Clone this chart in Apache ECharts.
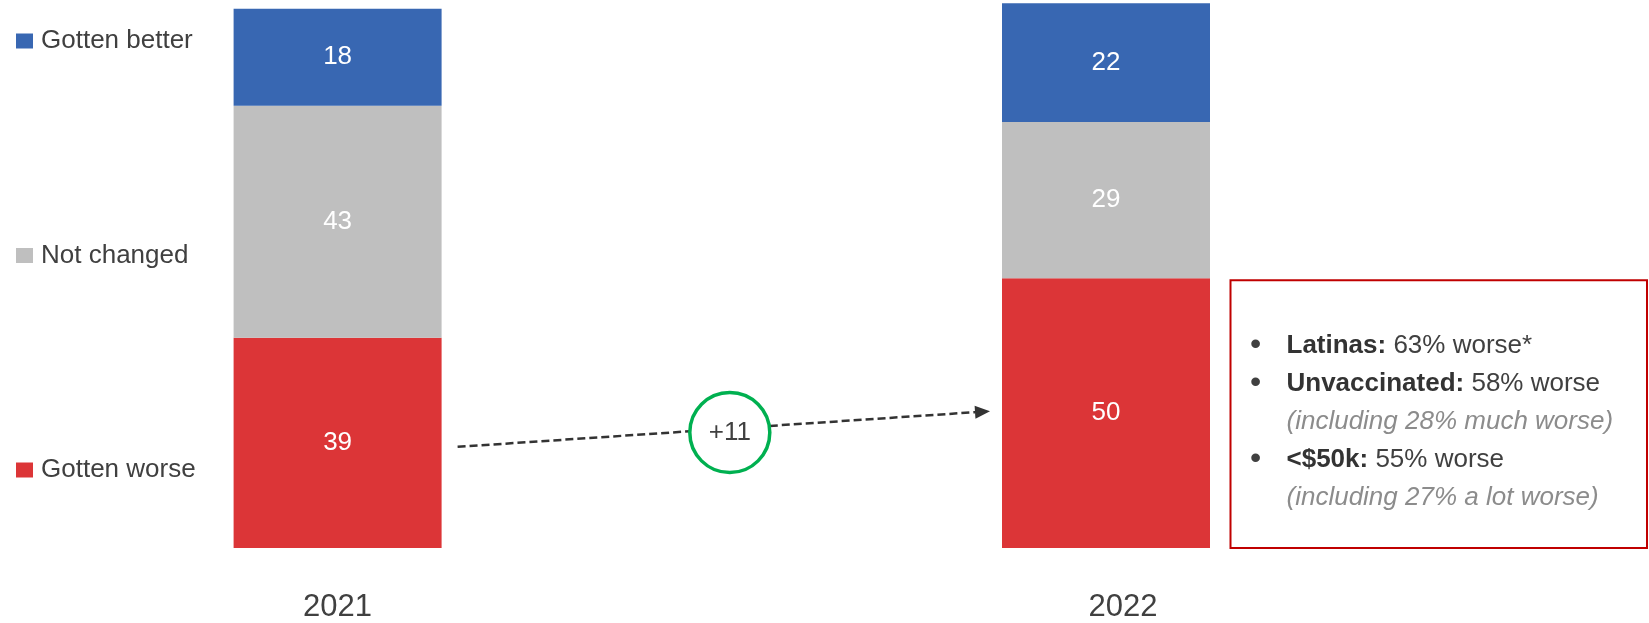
<!DOCTYPE html>
<html>
<head>
<meta charset="utf-8">
<title>Gotten better / not changed / gotten worse</title>
<script src="https://cdn.jsdelivr.net/npm/echarts@6/dist/echarts.min.js"></script>
<style>
  html, body { margin: 0; padding: 0; background: #fff; }
  #chart { width: 1649px; height: 623px; }
</style>
</head>
<body>
<div id="chart"></div>
<script>
// chart data
const years = ['2021', '2022'];
const gottenWorse = [39, 50];
const notChanged = [43, 29];
const gottenBetter = [18, 22];
const seriesNames = ['Gotten better', 'Not changed', 'Gotten worse'];

// side note
const noteGroups = ['Latinas:', 'Unvaccinated:', '<$50k:'];
const noteValues = ['63% worse*', '58% worse', '55% worse'];
const noteDetails = ['', '(including 28% much worse)', '(including 27% a lot worse)'];

const SANS = '"Liberation Sans", Arial, sans-serif';
const TEXT = '#404040';
const BAR_W = 208;

const chart = echarts.init(document.getElementById('chart'));

function barSeries(name, data, color) {
  return {
    name: name,
    type: 'bar',
    stack: 'total',
    data: data,
    barWidth: BAR_W,
    clip: false,
    itemStyle: { color: color },
    label: {
      show: true,
      position: 'inside',
      color: '#fff',
      fontFamily: SANS,
      fontSize: 26
    },
    emphasis: { disabled: true }
  };
}

chart.setOption({
  animation: false,
  // category points sit on the grid edges (boundaryGap false)
  grid: { left: 337.6, right: 543, top: 6, bottom: 73.5 },
  legend: {
    data: seriesNames,
    orient: 'vertical',
    left: 11,
    top: 21,
    itemWidth: 17,
    itemHeight: 15,
    itemGap: 184.5,
    icon: 'rect',
    selectedMode: false,
    textStyle: { fontFamily: SANS, fontSize: 26, color: TEXT, lineHeight: 30, padding: [0, 0, 0, 3] }
  },
  xAxis: {
    type: 'category',
    data: years,
    boundaryGap: false,
    axisLine: { show: false },
    axisTick: { show: false },
    axisLabel: {
      interval: 0,
      margin: 44,
      formatter: function (v, i) {
        return i === 1 ? '{r|' + v + '}' : '{n|' + v + '}';
      },
      rich: {
        n: { fontFamily: SANS, fontSize: 31, color: TEXT },
        r: { fontFamily: SANS, fontSize: 31, color: TEXT, padding: [0, 0, 0, 34] }
      }
    }
  },
  yAxis: { type: 'value', min: 0, max: 100.5, show: false },
  series: [
    barSeries('Gotten worse', gottenWorse, '#DC3537'),
    barSeries('Not changed', notChanged, '#BFBFBF'),
    barSeries('Gotten better', gottenBetter, '#3867B2')
  ]
});

// annotations: dashed arrow between the two "worse" blocks, change bubble, note box
const half = BAR_W / 2;
const p0 = chart.convertToPixel({ gridIndex: 0 }, [0, gottenWorse[0] / 2]);
const p1 = chart.convertToPixel({ gridIndex: 0 }, [1, gottenWorse[1] / 2]);
const start = [p0[0] + half + 16, p0[1] + 4];
const end = [p1[0] - half - 12, p1[1] - 2];
const dx = end[0] - start[0], dy = end[1] - start[1];
const len = Math.sqrt(dx * dx + dy * dy);
const ux = dx / len, uy = dy / len;
const yAt = x => start[1] + (x - start[0]) * dy / dx;

const r = 40;
const cx = (start[0] + end[0]) / 2 + 6;
const cy = yAt(cx) + 4;
const headLen = 15, headHalf = 6.5;
const base = [end[0] - ux * headLen, end[1] - uy * headLen];

const dashStyle = { stroke: '#333', lineWidth: 2.5, lineDash: [8, 4] };
const change = gottenWorse[1] - gottenWorse[0];

const boxLeft = p1[0] + half + 20.5;
const boxTop = chart.convertToPixel({ gridIndex: 0 }, [1, gottenWorse[1]])[1] + 2;
const boxBottom = chart.convertToPixel({ gridIndex: 0 }, [1, 0])[1];

const graphics = [
  { type: 'line', shape: { x1: start[0], y1: start[1], x2: cx - r, y2: yAt(cx - r) }, style: dashStyle },
  { type: 'line', shape: { x1: cx + r, y1: yAt(cx + r), x2: base[0], y2: base[1] }, style: dashStyle },
  {
    type: 'polygon',
    shape: { points: [end, [base[0] - uy * headHalf, base[1] + ux * headHalf], [base[0] + uy * headHalf, base[1] - ux * headHalf]] },
    style: { fill: '#333' }
  },
  { type: 'circle', shape: { cx: cx, cy: cy, r: r }, style: { fill: '#fff', stroke: '#00B050', lineWidth: 3.5 } },
  {
    type: 'text', x: cx, y: cy,
    style: { text: '+' + change, fill: TEXT, fontFamily: SANS, fontSize: 26, align: 'center', verticalAlign: 'middle' }
  },
  {
    type: 'rect',
    shape: { x: boxLeft, y: boxTop, width: 1647 - boxLeft, height: boxBottom - boxTop },
    style: { fill: 'none', stroke: '#C00000', lineWidth: 2 }
  }
];

// note lines
const lines = [];
noteGroups.forEach(function (g, i) {
  lines.push({ bullet: true, text: '{b|' + g + '}{n| ' + noteValues[i] + '}' });
  if (noteDetails[i]) lines.push({ bullet: false, text: '{i|' + noteDetails[i] + '}' });
});
const rich = {
  b: { fontFamily: SANS, fontSize: 26, fontWeight: 'bold', fill: '#333' },
  n: { fontFamily: SANS, fontSize: 26, fill: TEXT },
  i: { fontFamily: SANS, fontSize: 26, fontStyle: 'italic', fill: '#8C8C8C' }
};
lines.forEach(function (ln, k) {
  const y = boxTop + 65 + k * 38;
  if (ln.bullet) {
    graphics.push({
      type: 'text', x: boxLeft + 25, y: y,
      style: { text: '•', fill: TEXT, fontFamily: SANS, fontSize: 32, align: 'center', verticalAlign: 'middle' }
    });
  }
  graphics.push({
    type: 'text', x: boxLeft + 56, y: y,
    style: { text: ln.text, rich: rich, align: 'left', verticalAlign: 'middle' }
  });
});

chart.setOption({ graphic: graphics });
</script>
</body>
</html>
